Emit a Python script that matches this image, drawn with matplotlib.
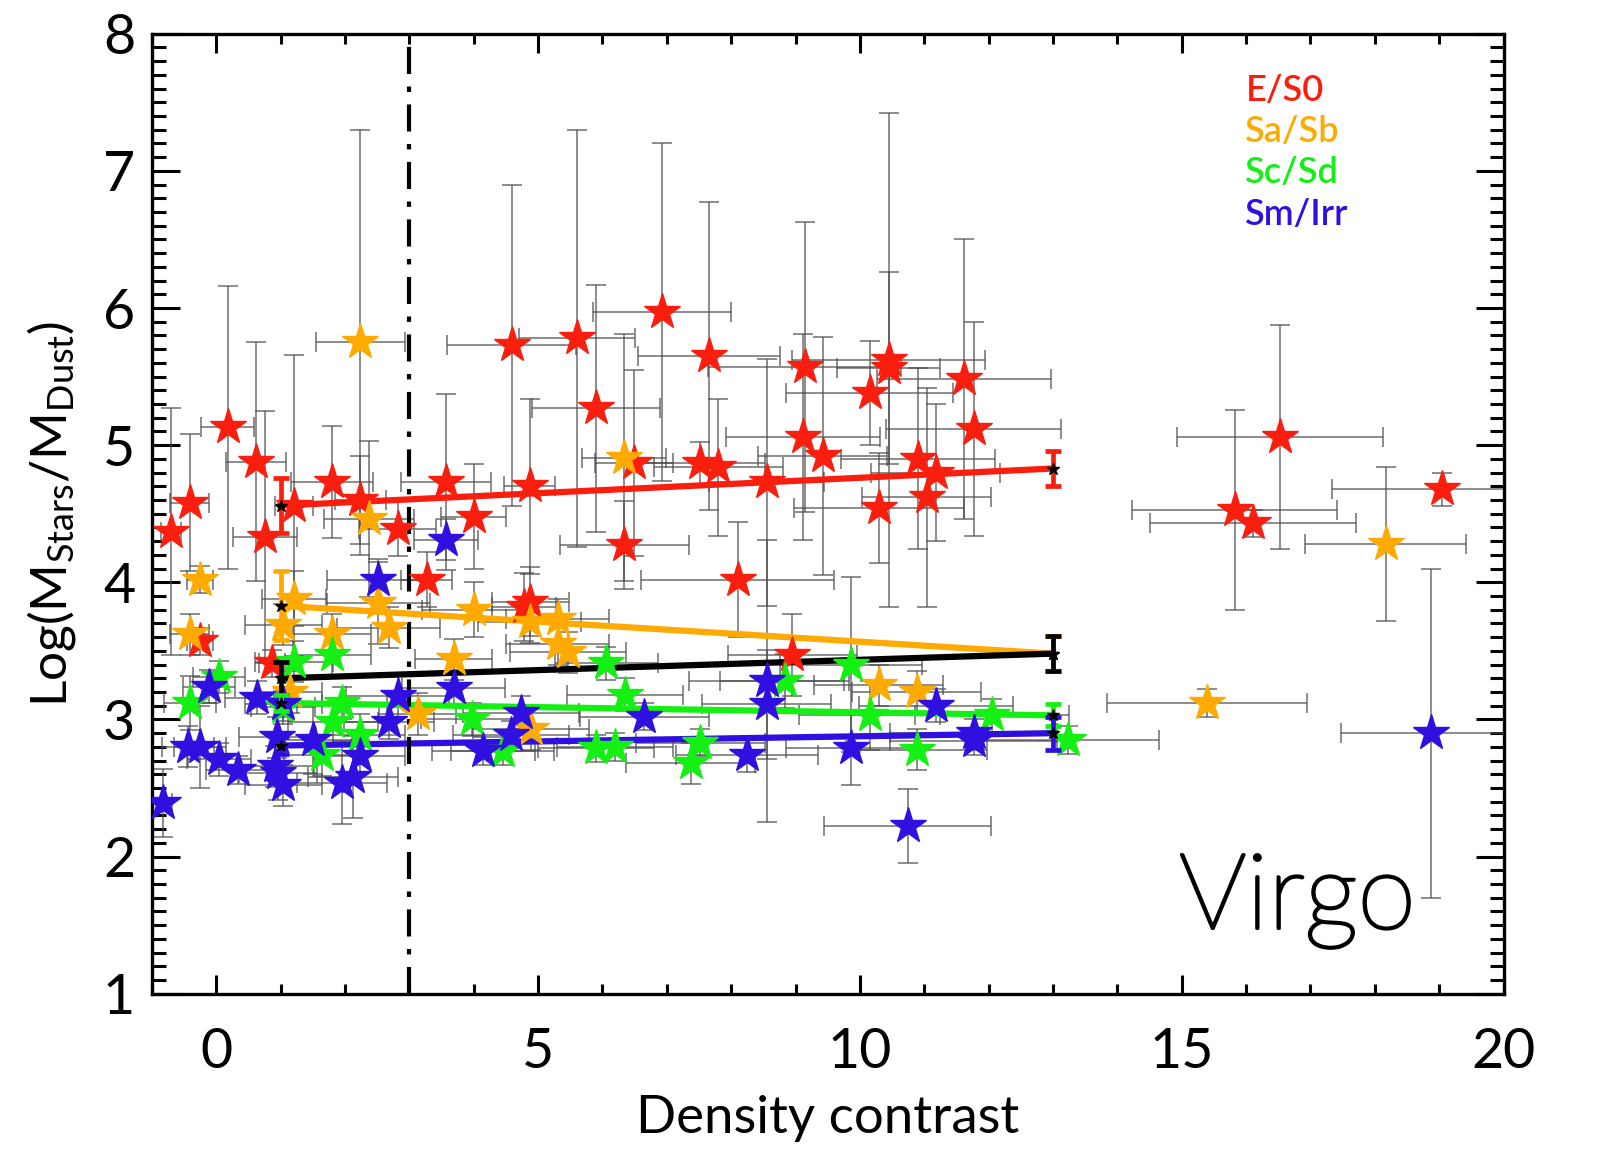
import matplotlib
matplotlib.use("Agg")
import matplotlib.pyplot as plt
import matplotlib.patheffects as pe
from matplotlib.ticker import MultipleLocator

plt.rcParams['font.family'] = ['Lato', 'DejaVu Sans']
plt.rcParams['mathtext.fontset'] = 'custom'
plt.rcParams['mathtext.rm'] = 'Lato'
plt.rcParams['mathtext.it'] = 'Lato'

# E/S0
red_x = [-0.70, -0.41, 0.18, 0.62, 0.76, 1.21, 1.80, 2.24, 2.82, 3.27, 3.57, 4.00, 4.59, 4.87, 4.78,
         4.88, 5.60, 5.90, 6.34, 6.49, 6.93, 7.66, 7.52, 7.80, 8.55, 8.10, 8.95, 9.12, 9.14, 9.42,
         10.15, 10.45, 10.45, 10.29, 10.90, 11.04, 11.18, 11.62, 11.77, 16.53, 15.82, 16.10, 19.04, -0.25, 0.87]
red_y = [4.37, 4.58, 5.13, 4.88, 4.33, 4.56, 4.73, 4.60, 4.39, 4.02, 4.73, 4.48, 5.73, 4.70, 3.82,
         3.86, 5.78, 5.27, 4.27, 4.87, 5.97, 5.65, 4.87, 4.84, 4.73, 4.02, 3.47, 5.06, 5.57, 4.92,
         5.38, 5.62, 5.56, 4.54, 4.90, 4.62, 4.80, 5.48, 5.12, 5.06, 4.53, 4.43, 4.68, 3.57, 3.41]
red_yerr = [0.90, 0.50, 1.03, 0.87, 0.92, 1.10, 0.41, 0.32, 0.20, 0.20, 0.64, 0.38, 1.17, 0.64, 0.25,
            0.25, 1.52, 0.90, 0.32, 0.68, 1.23, 1.12, 0.15, 0.50, 0.90, 0.42, 0.30, 0.75, 1.06, 0.87,
            0.38, 1.80, 0.70, 0.40, 0.66, 0.80, 0.50, 1.02, 0.78, 0.82, 0.73, 0.10, 0.12, 0.10, 0.10]
red_xerr = [0.15, 0.30, 0.41, 0.47, 0.50, 0.30, 0.63, 0.40, 0.60, 0.40, 0.70, 0.50, 1.00, 0.40, 0.50,
            0.60, 0.90, 1.00, 1.00, 0.60, 1.07, 1.10, 1.00, 1.00, 0.90, 1.50, 1.00, 1.20, 1.50, 1.00,
            1.30, 1.50, 0.80, 1.32, 1.20, 1.00, 1.00, 1.35, 1.36, 1.60, 1.60, 1.60, 1.70, 0.20, 0.20]

# Sa/Sb
ora_x = [-0.25, -0.41, 1.21, 1.04, 1.80, 2.52, 2.68, 3.69, 4.00, 3.13, 1.15, 4.87, 5.31, 5.31, 5.46,
         4.89, 10.29, 10.88, 2.24, 2.38, 6.34, 15.39, 18.17]
ora_y = [4.02, 3.62, 3.88, 3.69, 3.62, 3.85, 3.67, 3.44, 3.80, 3.04, 3.20, 3.71, 3.73, 3.55, 3.49,
         2.93, 3.25, 3.20, 5.75, 4.46, 4.91, 3.12, 4.28]
ora_yerr = [0.10, 0.15, 0.20, 0.15, 0.15, 0.30, 0.15, 0.15, 0.20, 0.15, 0.15, 0.15, 0.15, 0.15, 0.15,
            0.15, 0.15, 0.15, 1.55, 0.57, 0.90, 0.10, 0.56]
ora_xerr = [0.20, 0.30, 0.50, 0.60, 0.60, 0.80, 0.80, 0.60, 0.80, 0.60, 0.50, 0.80, 0.80, 0.80, 0.90,
            0.90, 1.00, 1.00, 0.69, 0.70, 0.65, 1.55, 1.25]

# Sc/Sd
grn_x = [0.04, -0.41, 1.21, 1.80, 1.96, 1.82, 2.24, 1.65, 1.04, 3.98, 4.45, 6.06, 6.35, 5.90, 6.20,
         7.52, 7.37, 8.83, 9.86, 10.15, 10.88, 12.05, 13.24]
grn_y = [3.31, 3.12, 3.42, 3.47, 3.12, 2.98, 2.89, 2.74, 3.09, 3.00, 2.77, 3.41, 3.18, 2.79, 2.80,
         2.83, 2.68, 3.28, 3.40, 3.03, 2.78, 3.03, 2.85]
grn_yerr = [0.12, 0.20, 0.15, 0.15, 0.12, 0.15, 0.15, 0.15, 0.12, 0.12, 0.10, 0.12, 0.12, 0.10, 0.10,
            0.10, 0.15, 0.20, 0.64, 0.25, 0.15, 0.12, 0.10]
grn_xerr = [0.40, 0.40, 0.60, 0.60, 0.70, 0.70, 0.70, 0.60, 0.50, 0.80, 0.80, 0.80, 0.90, 0.90, 0.90,
            1.00, 1.00, 1.00, 1.10, 1.10, 1.10, 1.20, 1.40]

# Sm/Irr
blu_x = [-0.83, -0.44, -0.25, -0.11, 0.04, 0.34, 0.64, 0.92, 0.95, 1.04, 1.04, 0.96, 1.51, 1.96, 2.12,
         2.24, 2.52, 2.68, 2.82, 3.69, 3.57, 4.15, 4.58, 4.73, 6.65, 8.25, 8.55, 8.55, 9.86, 11.18,
         11.77, 11.77, 10.74, 18.88]
blu_y = [2.39, 2.80, 2.80, 3.24, 2.71, 2.63, 3.16, 2.66, 2.87, 3.11, 2.52, 2.61, 2.85, 2.54, 2.58,
         2.73, 4.02, 2.98, 3.17, 3.23, 4.31, 2.77, 2.89, 3.05, 3.02, 2.74, 3.28, 3.11, 2.79, 3.10,
         2.90, 2.84, 2.22, 2.90]
blu_yerr = [0.25, 0.15, 0.30, 0.12, 0.12, 0.10, 0.12, 0.15, 0.15, 0.12, 0.15, 0.20, 0.25, 0.30, 0.30,
            0.12, 0.15, 0.12, 0.15, 0.12, 0.15, 0.10, 0.10, 0.12, 0.10, 0.12, 1.03, 0.40, 0.27, 0.12,
            0.10, 0.10, 0.27, 1.20]
blu_xerr = [0.15, 0.40, 0.40, 0.40, 0.50, 0.50, 0.50, 0.60, 0.60, 0.60, 0.60, 0.60, 0.60, 0.70, 0.70,
            0.70, 0.80, 0.70, 0.80, 0.80, 0.50, 0.80, 0.90, 0.90, 1.00, 1.10, 1.20, 1.00, 1.00, 1.20,
            1.30, 1.30, 1.30, 1.40]

# linear fits, drawn between the two mean points
fit_x = [1, 13]
red_fit, red_fit_err = [4.56, 4.83], [0.20, 0.13]
ora_fit, ora_fit_err = [3.83, 3.48], [0.25, 0.13]
blk_fit, blk_fit_err = [3.30, 3.48], [0.12, 0.13]
grn_fit, grn_fit_err = [3.12, 3.03], [0.06, 0.08]
blu_fit, blu_fit_err = [2.81, 2.90], [0.06, 0.12]

RED, ORANGE, GREEN, BLUE = '#fa1e0e', '#ffaa00', '#14f014', '#3010e0'

groups = [
    (red_x, red_y, red_xerr, red_yerr, RED),
    (ora_x, ora_y, ora_xerr, ora_yerr, ORANGE),
    (grn_x, grn_y, grn_xerr, grn_yerr, GREEN),
    (blu_x, blu_y, blu_xerr, blu_yerr, BLUE),
]
fits = [
    (red_fit, red_fit_err, RED),
    (ora_fit, ora_fit_err, ORANGE),
    (blk_fit, blk_fit_err, 'black'),
    (grn_fit, grn_fit_err, GREEN),
    (blu_fit, blu_fit_err, BLUE),
]

fig = plt.figure(figsize=(16.15, 11.65), dpi=100)
ax = fig.add_axes([0.094, 0.147, 0.837, 0.824])

for gx, gy, gxe, gye, c in groups:
    ax.errorbar(gx, gy, xerr=gxe, yerr=gye, fmt='none', ecolor='#4a4a4a',
                elinewidth=1.1, capsize=7, capthick=1.1, alpha=0.8, zorder=2)

for fy, fe, c in fits:
    ax.plot(fit_x, fy, color=c, lw=4.5, zorder=3)

for gx, gy, gxe, gye, c in groups:
    ax.plot(gx, gy, ls='none', marker='*', ms=27, color=c, mec=c, zorder=4)

for fy, fe, c in fits:
    ax.errorbar(fit_x, fy, yerr=fe, fmt='none', ecolor=c, elinewidth=3.4,
                capsize=6, capthick=3.4, zorder=5)
    ax.plot(fit_x, fy, ls='none', marker='*', ms=9, color='black', zorder=6)

ax.axvline(3, color='black', lw=3.0, dashes=(6.5, 3, 1.3, 3), zorder=3)

ax.set_xlim(-1, 20)
ax.set_ylim(1, 8)
ax.xaxis.set_major_locator(MultipleLocator(5))
ax.xaxis.set_minor_locator(MultipleLocator(1))
ax.yaxis.set_major_locator(MultipleLocator(1))
ax.yaxis.set_minor_locator(MultipleLocator(0.1))
ax.tick_params(which='both', direction='in', top=True, right=True, width=2.2, colors='black')
ax.tick_params(axis='x', which='major', length=14, labelsize=40, pad=24)
ax.tick_params(axis='x', which='minor', length=7)
ax.tick_params(axis='y', which='major', length=20, labelsize=40, pad=12)
ax.tick_params(axis='y', which='minor', length=10)
for s in ax.spines.values():
    s.set_linewidth(2.4)

ax.set_xlabel('Density contrast', fontsize=38, labelpad=12)
ax.set_ylabel(r'Log(M$_{\rm Stars}$/M$_{\rm Dust}$)', fontsize=37, labelpad=18)

labels = ['E/S0', 'Sa/Sb', 'Sc/Sd', 'Sm/Irr']
colors = [RED, ORANGE, GREEN, BLUE]
for i, (lab, c) in enumerate(zip(labels, colors)):
    ax.text(0.809, 0.941 - 0.043 * i, lab, color=c, fontsize=26, fontweight='semibold',
            transform=ax.transAxes, va='center', ha='left')

ax.text(0.76, 0.068, 'Virgo', fontsize=76, fontweight='light', transform=ax.transAxes,
        ha='left', va='baseline',
        path_effects=[pe.withStroke(linewidth=2.2, foreground='black')])

fig.savefig('out.png', dpi=100)
